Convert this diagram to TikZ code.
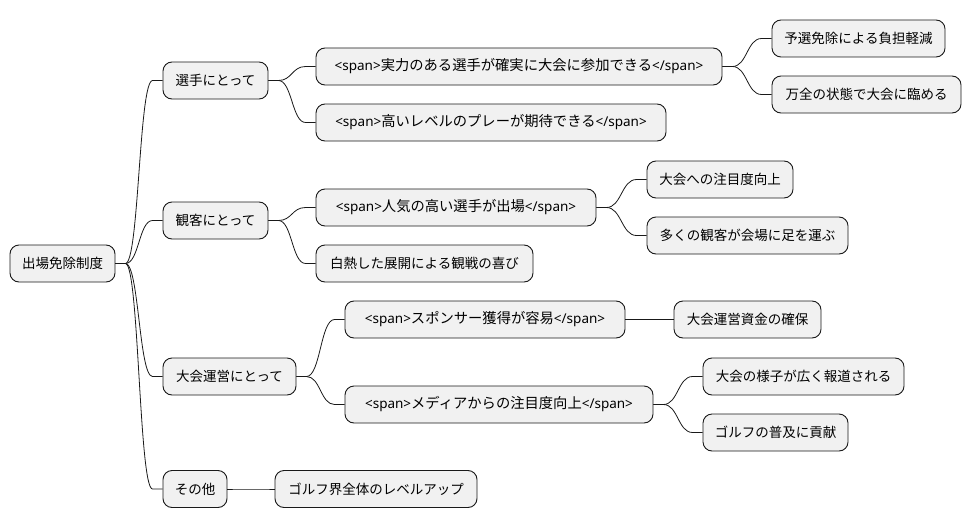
\documentclass[tikz,border=0pt]{standalone}
\usepackage{fontspec}
\setmainfont{Noto Sans CJK JP}
\newfontfamily\lat{Noto Sans}
\usetikzlibrary{calc}
\tikzset{
  box/.style={draw=black!90, fill=black!5.5, line width=0.9pt, rounded corners=9pt,
    minimum height=37pt, inner sep=0pt, font=\fontsize{13.5}{16}\selectfont, anchor=center},
  spanbox/.style={box, font=\fontsize{14.3}{16}\selectfont},
  link/.style={line width=0.8pt, draw=black!90}
}
\newcommand\spantxt[1]{{\lat\fontsize{13.5}{16}\selectfont<span>}#1{\lat\fontsize{13.5}{16}\selectfont</span>}}
\newcommand\conn[2]{%
  \path (#1.east) ++(10,0) coordinate (cs);
  \path (#2.west) ++(-10,0) coordinate (ce);
  \path ($(cs)!0.5!(ce)$) coordinate (cm);
  \draw[link] (#1.east) -- (cs) .. controls (cm|-cs) and (cm|-ce) .. (ce) -- (#2.west);}
\begin{document}
\begin{tikzpicture}[x=1pt,y=-1pt]
\useasboundingbox (0,0) rectangle (971,527);
\node[box, minimum width=105pt] (root) at (62.5,263.5) {出場免除制度};
\node[box, minimum width=105pt] (a) at (215.5,80.5) {選手にとって};
\node[box, minimum width=105pt] (b) at (215.5,220.5) {観客にとって};
\node[box, minimum width=133pt] (c) at (229.5,376.5) {大会運営にとって};
\node[box, minimum width=64pt] (d) at (195,489) {その他};
\node[spanbox, minimum width=406pt] (a1) at (519,66.5) {\spantxt{実力のある選手が確実に大会に参加できる}};
\node[spanbox, minimum width=350pt] (a2) at (491,122.5) {\spantxt{高いレベルのプレーが期待できる}};
\node[spanbox, minimum width=280pt] (b1) at (456,207.5) {\spantxt{人気の高い選手が出場}};
\node[box, minimum width=217pt] (b2) at (424.5,263.5) {白熱した展開による観戦の喜び};
\node[spanbox, minimum width=280pt] (c1) at (485,319.5) {\spantxt{スポンサー獲得が容易}};
\node[spanbox, minimum width=308pt] (c2) at (499,404.5) {\spantxt{メディアからの注目度向上}};
\node[box, minimum width=202pt] (d1) at (376,489) {ゴルフ界全体のレベルアップ};
\node[box, minimum width=173pt] (a11) at (858.5,38.5) {予選免除による負担軽減};
\node[box, minimum width=189pt] (a12) at (866.5,94.5) {万全の状態で大会に臨める};
\node[box, minimum width=146pt] (b11) at (720,179.5) {大会への注目度向上};
\node[box, minimum width=201pt] (b12) at (747.5,235.5) {多くの観客が会場に足を運ぶ};
\node[box, minimum width=147pt] (c11) at (747.5,319.5) {大会運営資金の確保};
\node[box, minimum width=201pt] (c21) at (803.5,376.5) {大会の様子が広く報道される};
\node[box, minimum width=145pt] (c22) at (775.5,432.5) {ゴルフの普及に貢献};
\conn{root}{a}\conn{root}{b}\conn{root}{c}\conn{root}{d}
\conn{a}{a1}\conn{a}{a2}
\conn{b}{b1}\conn{b}{b2}
\conn{c}{c1}\conn{c}{c2}
\conn{d}{d1}
\conn{a1}{a11}\conn{a1}{a12}
\conn{b1}{b11}\conn{b1}{b12}
\conn{c1}{c11}
\conn{c2}{c21}\conn{c2}{c22}
\end{tikzpicture}
\end{document}
